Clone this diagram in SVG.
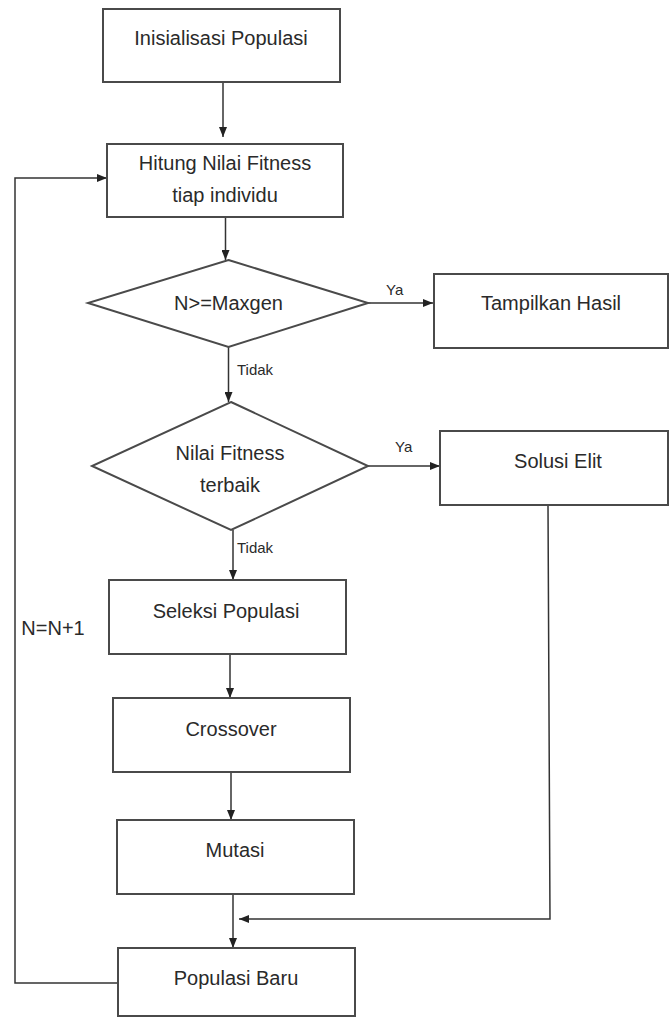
<svg xmlns="http://www.w3.org/2000/svg" width="670" height="1020" viewBox="0 0 670 1020">
<style>
.box{fill:#fff;stroke:#4a4a4a;stroke-width:2}
.t{font-family:"Liberation Sans",Arial,sans-serif;font-size:20px;fill:#2a2a2a;text-anchor:middle}
.s{font-family:"Liberation Sans",Arial,sans-serif;font-size:15px;fill:#2a2a2a}
.c{fill:none;stroke:#333;stroke-width:1.5}
</style>
<defs>
<marker id="ah" markerUnits="userSpaceOnUse" markerWidth="10" markerHeight="8" refX="10" refY="4" orient="auto">
<path d="M0,0 L10,4 L0,8 z" fill="#222"/>
</marker>
</defs>
<rect width="670" height="1020" fill="#fff"/>
<g id="connectors">
<path class="c" d="M223,82 V137" marker-end="url(#ah)"/>
<path class="c" d="M225.5,217 V260" marker-end="url(#ah)"/>
<path class="c" d="M368,303 H433" marker-end="url(#ah)"/>
<path class="c" d="M228.5,347 V402" marker-end="url(#ah)"/>
<path class="c" d="M368,466 H440" marker-end="url(#ah)"/>
<path class="c" d="M233,530 V580" marker-end="url(#ah)"/>
<path class="c" d="M230,654 V698" marker-end="url(#ah)"/>
<path class="c" d="M231,772 V820" marker-end="url(#ah)"/>
<path class="c" d="M233,894 V948" marker-end="url(#ah)"/>
<path class="c" d="M548,505 L550,919 H239" marker-end="url(#ah)"/>
<path class="c" d="M118,983 H15 V178 H107" marker-end="url(#ah)"/>
<text class="s" x="386" y="295">Ya</text>
<text class="s" x="395" y="452">Ya</text>
<text class="s" x="237" y="375">Tidak</text>
<text class="s" x="237" y="553">Tidak</text>
<text class="t" x="53" y="635">N=N+1</text>
</g>
<g id="n1"><rect class="box" x="103" y="9" width="237" height="73"/><text class="t" x="221" y="45">Inisialisasi Populasi</text></g>
<g id="n2"><rect class="box" x="107" y="144" width="236" height="73"/><text class="t" x="225" y="170">Hitung Nilai Fitness</text><text class="t" x="225" y="202">tiap individu</text></g>
<g id="d1"><polygon class="box" points="228.5,260 368,303 228.5,347 88,303"/><text class="t" x="228.5" y="310">N&gt;=Maxgen</text></g>
<g id="n3"><rect class="box" x="434" y="274" width="234" height="74"/><text class="t" x="551" y="310">Tampilkan Hasil</text></g>
<g id="d2"><polygon class="box" points="231,402 368,466 231,530 92,466"/><text class="t" x="230" y="460">Nilai Fitness</text><text class="t" x="230" y="492">terbaik</text></g>
<g id="n4"><rect class="box" x="440" y="431" width="228" height="74"/><text class="t" x="558" y="468">Solusi Elit</text></g>
<g id="n5"><rect class="box" x="109" y="580" width="237" height="74"/><text class="t" x="226" y="618">Seleksi Populasi</text></g>
<g id="n6"><rect class="box" x="113" y="698" width="237" height="74"/><text class="t" x="231" y="736">Crossover</text></g>
<g id="n7"><rect class="box" x="117" y="820" width="237" height="74"/><text class="t" x="235" y="857">Mutasi</text></g>
<g id="n8"><rect class="box" x="118" y="948" width="237" height="68"/><text class="t" x="236" y="985">Populasi Baru</text></g>
</svg>
